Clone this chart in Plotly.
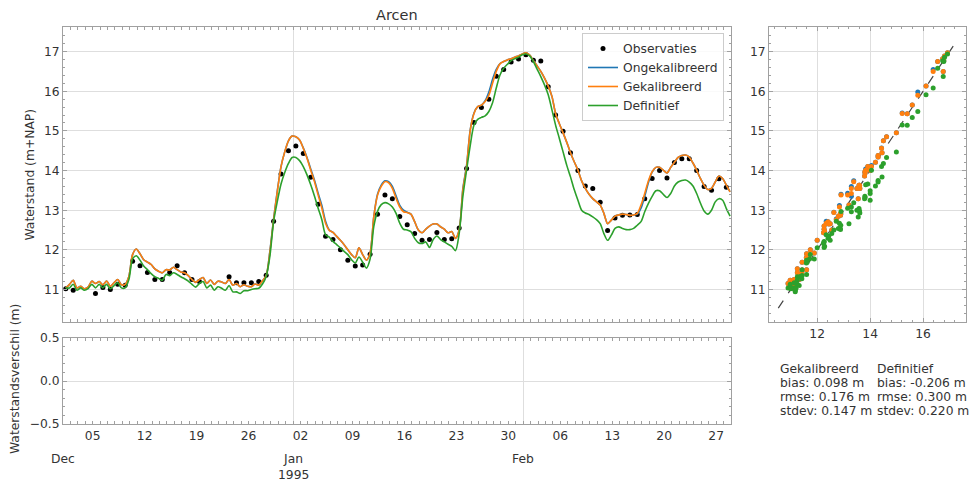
import pandas as pd
import plotly.graph_objects as go

# ---------------- data ----------------
station = "Arcen"
series_names = ["Observaties", "Ongekalibreerd", "Gekalibreerd", "Definitief"]
colors = ["#000000", "#1f77b4", "#ff7f0e", "#2ca02c"]

# model output every 12 h starting 1994-12-01 09:00
model_start = "1994-12-01 09:00"
gekalibreerd = [
    11.04, 11.13, 11.23, 11.04, 11.08, 11.02, 11.06, 11.21, 11.15, 11.20,
    11.12, 11.21, 11.08, 11.17, 11.25, 11.12, 11.13, 11.33, 11.88, 12.02,
    11.90, 11.75, 11.69, 11.63, 11.52, 11.46, 11.42, 11.50, 11.49, 11.56,
    11.50, 11.44, 11.42, 11.35, 11.25, 11.18, 11.25, 11.30, 11.15, 11.24,
    11.13, 11.21, 11.19, 11.15, 11.25, 11.11, 11.15, 11.07, 11.12, 11.08,
    11.07, 11.14, 11.11, 11.22, 11.35, 11.95, 12.76, 13.47, 14.10, 14.47,
    14.75, 14.87, 14.85, 14.77, 14.56, 14.31, 14.01, 13.72, 13.38, 13.05,
    12.67, 12.49, 12.44, 12.34, 12.24, 12.13, 12.00, 11.88, 11.80, 12.05,
    11.88, 11.74, 11.92, 12.84, 13.38, 13.60, 13.72, 13.69, 13.55, 13.30,
    13.08, 12.96, 12.94, 12.90, 12.71, 12.50, 12.43, 12.52, 12.60, 12.65,
    12.65, 12.58, 12.52, 12.43, 12.46, 12.29, 12.50, 13.51, 14.10, 15.02,
    15.44, 15.61, 15.65, 15.74, 15.90, 16.20, 16.50, 16.69, 16.75, 16.79,
    16.82, 16.86, 16.89, 16.94, 16.97, 16.91, 16.77, 16.64, 16.50, 16.33,
    16.13, 15.87, 15.43, 15.18, 14.95, 14.71, 14.45, 14.22, 14.01, 13.74,
    13.55, 13.40, 13.29, 13.21, 13.13, 12.92, 12.66, 12.75, 12.85, 12.88,
    12.90, 12.89, 12.87, 12.88, 12.92, 13.13, 13.42, 13.74, 13.97, 14.08,
    14.08, 14.01, 13.94, 14.08, 14.21, 14.33, 14.38, 14.39, 14.34, 14.19,
    14.01, 13.80, 13.63, 13.52, 13.55, 13.71, 13.86, 13.80, 13.63, 13.46,
]
ongekalibreerd = [
    11.04, 11.13, 11.23, 11.04, 11.08, 11.02, 11.06, 11.21, 11.15, 11.20,
    11.12, 11.21, 11.08, 11.17, 11.25, 11.12, 11.13, 11.33, 11.88, 12.02,
    11.90, 11.75, 11.69, 11.63, 11.52, 11.46, 11.42, 11.50, 11.49, 11.56,
    11.50, 11.44, 11.42, 11.35, 11.25, 11.18, 11.25, 11.30, 11.15, 11.24,
    11.13, 11.21, 11.19, 11.15, 11.25, 11.11, 11.15, 11.07, 11.12, 11.08,
    11.07, 11.14, 11.11, 11.22, 11.35, 11.97, 12.78, 13.49, 14.10, 14.47,
    14.75, 14.87, 14.85, 14.77, 14.57, 14.33, 14.04, 13.76, 13.43, 13.12,
    12.72, 12.50, 12.44, 12.34, 12.24, 12.13, 12.00, 11.88, 11.80, 12.05,
    11.88, 11.74, 11.92, 12.84, 13.40, 13.63, 13.74, 13.72, 13.60, 13.36,
    13.12, 13.00, 12.95, 12.90, 12.71, 12.50, 12.43, 12.52, 12.60, 12.65,
    12.65, 12.58, 12.52, 12.43, 12.46, 12.29, 12.50, 13.55, 14.13, 15.04,
    15.45, 15.61, 15.65, 15.76, 15.98, 16.30, 16.55, 16.70, 16.75, 16.79,
    16.82, 16.86, 16.89, 16.94, 16.97, 16.91, 16.77, 16.64, 16.50, 16.33,
    16.13, 15.87, 15.43, 15.18, 14.95, 14.71, 14.45, 14.22, 14.01, 13.74,
    13.55, 13.40, 13.29, 13.21, 13.13, 12.92, 12.66, 12.75, 12.85, 12.88,
    12.90, 12.89, 12.87, 12.88, 12.90, 13.05, 13.35, 13.70, 13.96, 14.08,
    14.08, 14.01, 13.94, 14.08, 14.21, 14.33, 14.38, 14.39, 14.34, 14.19,
    14.01, 13.80, 13.63, 13.52, 13.55, 13.71, 13.86, 13.80, 13.63, 13.46,
]
definitief = [
    11.04, 11.04, 11.13, 10.98, 11.04, 10.98, 11.02, 11.13, 11.04, 11.13,
    11.04, 11.13, 11.02, 11.10, 11.17, 11.04, 11.04, 11.25, 11.77, 11.85,
    11.74, 11.59, 11.50, 11.40, 11.32, 11.28, 11.23, 11.38, 11.35, 11.42,
    11.38, 11.32, 11.27, 11.21, 11.13, 11.06, 11.15, 11.20, 11.04, 11.11,
    10.98, 11.07, 11.03, 10.98, 11.10, 10.94, 10.94, 10.90, 10.97, 10.97,
    11.00, 11.02, 11.03, 11.14, 11.33, 11.84, 12.72, 13.22, 13.66, 13.95,
    14.18, 14.33, 14.33, 14.25, 14.10, 13.89, 13.64, 13.36, 13.05, 12.76,
    12.38, 12.32, 12.21, 12.13, 12.05, 11.96, 11.88, 11.75, 11.67, 11.82,
    11.69, 11.54, 11.77, 12.59, 12.97, 13.14, 13.19, 13.16, 13.08, 12.92,
    12.67, 12.52, 12.50, 12.46, 12.29, 12.18, 12.16, 12.20, 12.06, 12.26,
    12.35, 12.26, 12.20, 12.14, 12.09, 11.98, 12.41, 13.35, 14.01, 14.64,
    15.15, 15.29, 15.34, 15.38, 15.49, 15.71, 16.08, 16.41, 16.58, 16.68,
    16.77, 16.82, 16.86, 16.92, 16.94, 16.89, 16.75, 16.56, 16.37, 16.16,
    15.91, 15.53, 15.14, 14.81, 14.47, 14.13, 13.84, 13.52, 13.25, 13.00,
    12.93, 12.89, 12.83, 12.76, 12.66, 12.41, 12.24, 12.37, 12.54, 12.58,
    12.54, 12.51, 12.51, 12.54, 12.62, 12.71, 12.96, 13.17, 13.35, 13.49,
    13.49, 13.40, 13.32, 13.42, 13.61, 13.71, 13.75, 13.76, 13.71, 13.61,
    13.42, 13.18, 12.98, 12.90, 13.00, 13.21, 13.29, 13.25, 13.04, 12.85,
]

# daily observations at 09:00 (None = missing)
obs_start = "1994-12-01 09:00"
observaties = [
    11.02, 10.98, None, None, 10.90, 11.05, 11.00, 11.13, 11.11, 11.71,
    11.60, 11.43, 11.25, 11.25, 11.43, 11.60, 11.42, 11.25, 11.20, None,
    None, None, 11.32, 11.17, 11.17, 11.17, 11.20, 11.36, 12.72, 13.91,
    14.50, 14.62, 14.43, 13.83, 13.15, 12.34, 12.26, 12.00, 11.74, 11.59,
    11.62, 11.89, 12.90, 13.38, 13.29, 12.84, 12.63, 12.41, 12.24, 12.26,
    12.44, 12.26, 12.28, 12.55, 14.05, 15.21, 15.59, 15.80, 16.38, 16.55,
    16.74, 16.81, 16.92, 16.78, 16.76, 16.11, 15.40, 14.99, 14.45, 14.00,
    13.61, 13.55, 13.20, 12.49, 12.80, 12.87, 12.88, 12.89, 13.29, 13.80,
    14.00, 13.81, 14.20, 14.30, 14.30, 14.00, 13.60, 13.50, 13.79, 13.58,
]

x_range = ["1994-12-01", "1995-03-01"]
month_starts = ["1994-12-01", "1995-01-01", "1995-02-01"]
month_labels = ["Dec", "Jan", "Feb"]
year_label = "1995"
year_at = "1995-01-01"
week_first = "1994-12-05"
y_range = [10.18, 17.62]
y_ticks = [11, 12, 13, 14, 15, 16, 17]
scatter_xticks = [12, 14, 16]
one_to_one = [10.53, 17.29]
diff_range = [-0.5, 0.5]
diff_ticks = [-0.5, 0.0, 0.5]

stat_names = ["bias", "rmse", "stdev"]
stat_cols = ["Gekalibreerd", "Definitief"]
stat_gek = [0.098, 0.176, 0.147]
stat_def = [-0.206, 0.300, 0.220]

# ---------------- derived ----------------
model_t = pd.date_range(model_start, periods=len(gekalibreerd), freq="12h")
obs_t = pd.date_range(obs_start, periods=len(observaties), freq="D")
days = pd.date_range(x_range[0], x_range[1], freq="D")
weeks = set(pd.date_range(week_first, x_range[1], freq="7D"))
day_text = [d.strftime("%d") if d in weeks else "" for d in days]

# model values at observation times (every second model step)
at_obs = lambda arr: [arr[2 * i] for i in range(len(observaties))]

FONT = "DejaVu Sans"
TXT = "#333333"
GRID = "#dedede"
AXL = "#a0a0a0"
FS = 12.3

fig = go.Figure()

fig.add_trace(go.Scatter(x=obs_t, y=observaties, mode="markers", name=series_names[0],
                         marker=dict(color=colors[0], size=5), xaxis="x", yaxis="y"))
for name, arr, c in zip(series_names[1:], [ongekalibreerd, gekalibreerd, definitief], colors[1:]):
    fig.add_trace(go.Scatter(x=model_t, y=arr, mode="lines", name=name,
                             line=dict(color=c, width=1.6, shape="spline", smoothing=0.8),
                             xaxis="x", yaxis="y"))

# empty difference panel
fig.add_trace(go.Scatter(x=[], y=[], mode="lines", showlegend=False, xaxis="x2", yaxis="y2"))

# scatter panel
fig.add_trace(go.Scatter(x=one_to_one, y=one_to_one, mode="lines", showlegend=False,
                         line=dict(color="#444444", width=1.2, dash="dash"),
                         xaxis="x3", yaxis="y3"))
for arr, c in zip([ongekalibreerd, gekalibreerd, definitief], colors[1:]):
    fig.add_trace(go.Scatter(x=observaties, y=at_obs(arr), mode="markers", showlegend=False,
                             marker=dict(color=c, size=5), xaxis="x3", yaxis="y3"))

W, H = 975, 483
px = lambda v: v / W
py = lambda v: 1 - v / H

main_dom_x = [px(63), px(731)]
main_dom_y = [py(322), py(27)]
diff_dom_y = [py(424), py(338)]
sc_dom_x = [px(769), px(966)]

common_ax = dict(showline=True, linecolor=AXL, linewidth=1, mirror="allticks",
                 ticks="inside", tickcolor=AXL, zeroline=False, automargin=False,
                 tickfont=dict(family=FONT, size=FS, color=TXT))

date_x = dict(common_ax, type="date", range=x_range, tickmode="array",
              tickvals=list(days), ticktext=day_text, ticklen=3, showgrid=False,
              minor=dict(tickmode="array", tickvals=month_starts, showgrid=True,
                         gridcolor=GRID, gridwidth=1, ticks=""))

fig.update_layout(
    width=W, height=H, autosize=False,
    margin=dict(l=0, r=0, t=0, b=0, autoexpand=False),
    paper_bgcolor="white", plot_bgcolor="white",
    font=dict(family=FONT, size=FS, color=TXT),
    xaxis=dict(date_x, domain=main_dom_x, anchor="y", showticklabels=False),
    yaxis=dict(common_ax, domain=main_dom_y, anchor="x", range=y_range,
               tickmode="array", tickvals=y_ticks, ticklen=4, showgrid=True,
               gridcolor=GRID, minor=dict(dtick=0.2, ticks="inside", ticklen=2,
                                          tickcolor=AXL, showgrid=False)),
    xaxis2=dict(date_x, domain=main_dom_x, anchor="y2"),
    yaxis2=dict(common_ax, domain=diff_dom_y, anchor="x2", range=diff_range,
                tickmode="array", tickvals=diff_ticks, tickformat=".1f", ticklen=4,
                showgrid=True, gridcolor=GRID,
                minor=dict(dtick=0.1, ticks="inside", ticklen=2, tickcolor=AXL,
                           showgrid=False)),
    xaxis3=dict(common_ax, domain=sc_dom_x, anchor="y3", range=y_range,
                tickmode="array", tickvals=scatter_xticks, ticklen=4, showgrid=True,
                gridcolor=GRID, minor=dict(dtick=0.4, tick0=0, ticks="inside",
                                           ticklen=2, tickcolor=AXL, showgrid=False)),
    yaxis3=dict(common_ax, domain=main_dom_y, anchor="x3", range=y_range,
                tickmode="array", tickvals=y_ticks, ticklen=4, showgrid=True,
                gridcolor=GRID, minor=dict(dtick=0.2, ticks="inside", ticklen=2,
                                           tickcolor=AXL, showgrid=False)),
    legend=dict(x=px(724), xanchor="right", y=py(33), yanchor="top",
                bgcolor="rgba(255,255,255,0.85)", bordercolor="#cccccc", borderwidth=1,
                font=dict(family=FONT, size=FS, color=TXT), tracegroupgap=0),
    showlegend=True,
)

ann = []
ann.append(dict(text=station, x=(main_dom_x[0] + main_dom_x[1]) / 2, y=py(15),
                xref="paper", yref="paper", showarrow=False,
                xanchor="center", yanchor="middle",
                font=dict(family=FONT, size=14.5, color=TXT)))
ann.append(dict(text="Waterstand (m+NAP)", x=px(30), y=(main_dom_y[0] + main_dom_y[1]) / 2,
                xref="paper", yref="paper", showarrow=False, textangle=-90,
                xanchor="center", yanchor="middle",
                font=dict(family=FONT, size=FS, color=TXT)))
ann.append(dict(text="Waterstandsverschil (m)", x=px(15), y=py(379),
                xref="paper", yref="paper", showarrow=False, textangle=-90,
                xanchor="center", yanchor="middle",
                font=dict(family=FONT, size=FS, color=TXT)))
for m, lab in zip(month_starts, month_labels):
    ann.append(dict(text=lab, x=m, xref="x2", y=py(459), yref="paper", yanchor="middle",
                    xanchor="center", showarrow=False, borderpad=0,
                    font=dict(family=FONT, size=FS, color=TXT)))
ann.append(dict(text=year_label, x=year_at, xref="x2", y=py(475), yref="paper",
                yanchor="middle", xanchor="center", showarrow=False, borderpad=0,
                font=dict(family=FONT, size=FS, color=TXT)))

col_x = [779, 876]
for ci, (head, vals) in enumerate(zip(stat_cols, [stat_gek, stat_def])):
    lines = [head] + [f"{n}: {v:.3f} m" for n, v in zip(stat_names, vals)]
    for li, t in enumerate(lines):
        ann.append(dict(text=t, x=px(col_x[ci]), y=py(369 + 14 * li), xref="paper",
                        yref="paper", xanchor="left", yanchor="middle", showarrow=False,
                        borderpad=0, font=dict(family=FONT, size=FS, color=TXT)))
fig.update_layout(annotations=ann)

fig.write_html("out.html", config={"displayModeBar": False},
               post_script="document.body.style.margin='0px';document.body.style.overflow='hidden';")
